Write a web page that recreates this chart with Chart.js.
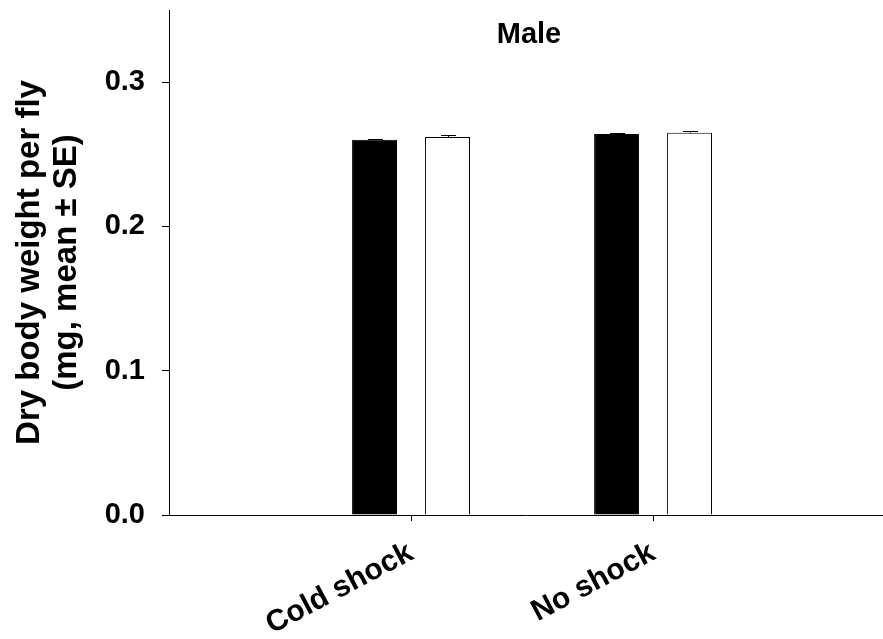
<!DOCTYPE html>
<html><head><meta charset="utf-8">
<script src="https://cdn.jsdelivr.net/npm/chart.js@4/dist/chart.umd.min.js"></script>
<style>html,body{margin:0;padding:0;background:#fff;overflow:hidden}</style>
</head><body>
<canvas id="c" width="883" height="639"></canvas>
<script>
const chartTitle = 'Male';
const categories = ['Cold shock', 'No shock'];
const categoryPositions = [1, 2];
const seriesNames = ['Series 1', 'Series 2'];
const blackMeans = [0.260, 0.264];
const blackSE = [0.0007, 0.0010];
const whiteMeans = [0.262, 0.265];
const whiteSE = [0.0013, 0.0012];
const yTicks = [0.0, 0.1, 0.2, 0.3];
const yAxisTitle = ['Dry body weight per fly', '(mg, mean \u00b1 SE)'];

const FONT = '"Liberation Sans", Arial, sans-serif';

const errorBarPlugin = {
  id: 'errorBars',
  afterDatasetsDraw(chart) {
    const ctx = chart.ctx;
    const yScale = chart.scales.y;
    ctx.save();
    ctx.strokeStyle = '#000';
    ctx.lineWidth = 1;
    chart.data.datasets.forEach((ds, di) => {
      const meta = chart.getDatasetMeta(di);
      meta.data.forEach((bar, i) => {
        const v = ds.data[i].y;
        const yTop = Math.round(yScale.getPixelForValue(v + ds.errors[i])) + 0.5;
        const x = Math.round(bar.x) + 0.5;
        ctx.beginPath();
        ctx.moveTo(x, bar.y);
        ctx.lineTo(x, yTop);
        ctx.moveTo(x - 7.5, yTop);
        ctx.lineTo(x + 7.5, yTop);
        ctx.stroke();
      });
    });
    ctx.restore();
  }
};

const innerTitlePlugin = {
  id: 'innerTitle',
  afterDraw(chart) {
    const ctx = chart.ctx;
    const a = chart.chartArea;
    ctx.save();
    ctx.fillStyle = '#000';
    ctx.font = 'bold 29px ' + FONT;
    ctx.textAlign = 'center';
    ctx.textBaseline = 'middle';
    ctx.fillText(chartTitle, (a.left + a.right) / 2 + 3, a.top + 25);
    ctx.restore();
  }
};

new Chart(document.getElementById('c'), {
  type: 'bar',
  data: {
    datasets: [
      {
        label: seriesNames[0],
        data: categoryPositions.map((x, i) => ({x, y: blackMeans[i]})),
        errors: blackSE,
        backgroundColor: '#000',
        borderColor: '#000',
        borderWidth: 1
      },
      {
        label: seriesNames[1],
        data: categoryPositions.map((x, i) => ({x, y: whiteMeans[i]})),
        errors: whiteSE,
        backgroundColor: '#fff',
        borderColor: '#000',
        borderWidth: 1
      }
    ]
  },
  options: {
    responsive: false,
    animation: false,
    categoryPercentage: 0.603,
    barPercentage: 0.616,
    layout: {padding: {top: 10, left: 0, right: 0, bottom: 0}},
    plugins: {legend: {display: false}, tooltip: {enabled: false}, title: {display: false}},
    scales: {
      x: {
        type: 'linear',
        offset: false,
        min: 0,
        max: 2.95,
        afterBuildTicks: s => { s.ticks = categoryPositions.map(v => ({value: v})); },
        afterFit: s => { s.height = 124; s.paddingLeft = 0; s.paddingRight = 0; },
        grid: {offset: false, drawOnChartArea: false, drawTicks: true, tickLength: 6, color: '#000', tickColor: '#000'},
        border: {display: true, color: '#000', width: 1},
        ticks: {
          autoSkip: false,
          minRotation: 28,
          maxRotation: 28,
          padding: 14,
          color: '#000',
          font: {family: FONT, size: 30, weight: 'bold'},
          callback: v => categories[categoryPositions.indexOf(v)]
        }
      },
      y: {
        min: 0,
        max: 0.35,
        afterBuildTicks: s => { s.ticks = yTicks.map(v => ({value: v})); },
        afterFit: s => { s.width = 169; s.paddingTop = 0; s.paddingBottom = 0; },
        grid: {drawOnChartArea: false, drawTicks: true, tickLength: 7, color: '#000', tickColor: '#000'},
        border: {display: true, color: '#000', width: 1},
        ticks: {
          padding: 17,
          color: '#000',
          font: {family: FONT, size: 29, weight: 'bold'},
          callback: v => Number(v).toFixed(1)
        },
        title: {
          display: true,
          text: yAxisTitle,
          color: '#000',
          font: {family: FONT, size: 33, weight: 'bold', lineHeight: 1.12},
          padding: {top: 11, bottom: 0}
        }
      }
    }
  },
  plugins: [errorBarPlugin, innerTitlePlugin]
});
</script>
</body></html>
